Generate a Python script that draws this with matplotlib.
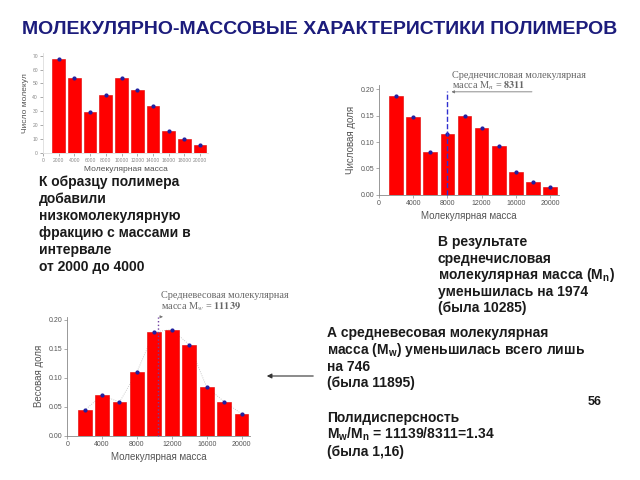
import matplotlib
matplotlib.use("Agg")
import matplotlib.pyplot as plt

plt.rcParams['font.family'] = ['Liberation Sans', 'DejaVu Sans']
plt.rcParams['mathtext.fontset'] = 'custom'
plt.rcParams['mathtext.rm'] = 'Liberation Sans:bold'
plt.rcParams['mathtext.it'] = 'Liberation Sans:bold'
plt.rcParams['mathtext.bf'] = 'Liberation Sans:bold'

# data
masses = [2000, 4000, 6000, 8000, 10000, 12000, 14000, 16000, 18000, 20000]
n_molecules = [67.3, 53.6, 29.6, 41.6, 53.6, 45.4, 33.9, 16.1, 9.9, 5.8]
number_frac = [0.188, 0.148, 0.082, 0.115, 0.149, 0.127, 0.093, 0.043, 0.025, 0.014]
weight_frac = [0.044, 0.070, 0.058, 0.110, 0.179, 0.183, 0.157, 0.084, 0.059, 0.038]
mn_line = 7900     # where the dashed line is drawn on the slide
mw_line = 10400

bar_red = '#ff0000'
grey = '#555555'

fig = plt.figure(figsize=(6.4, 4.8), dpi=100)

def style_axes(ax, ticksize):
    for s in ['top', 'right']:
        ax.spines[s].set_visible(False)
    for s in ['left', 'bottom']:
        ax.spines[s].set_color('#888888')
        ax.spines[s].set_linewidth(0.6)
    ax.tick_params(labelsize=ticksize, colors='#888888', labelcolor=grey,
                   length=2, width=0.5, pad=1.5)

def bars(ax, vals):
    ax.bar(masses, vals, width=1600, color=bar_red, edgecolor='#dd0000', linewidth=0.4, zorder=2)
    ax.plot(masses, vals, 'o', color='#2020a0', markersize=2, zorder=3)

# ---- top-left: number of molecules
ax1 = fig.add_axes([0.067, 0.681, 0.258, 0.209])
bars(ax1, n_molecules)
ax1.set_xlim(0, 21000)
ax1.set_ylim(0, 72)
ax1.set_xticks([0] + masses)
ax1.set_xticklabels(['0'] + [str(m) for m in masses])
ax1.set_yticks(range(0, 80, 10))
style_axes(ax1, 3.6)
ax1.spines['left'].set_color('#dddddd')
ax1.spines['bottom'].set_color('#dddddd')
ax1.tick_params(labelcolor='#888888')
ax1.set_ylabel('Число молекул', fontsize=6, color=grey, labelpad=2)
ax1.set_xlabel('Молекулярная масса', fontsize=6, color=grey, labelpad=2)

# ---- top-right: number fraction
ax2 = fig.add_axes([0.592, 0.594, 0.281, 0.229])
bars(ax2, number_frac)
ax2.set_xlim(0, 21000)
ax2.set_ylim(0, 0.208)
ax2.set_xticks([0, 4000, 8000, 12000, 16000, 20000])
ax2.set_yticks([0, 0.05, 0.10, 0.15, 0.20])
ax2.set_yticklabels(['0.00', '0.05', '0.10', '0.15', '0.20'])
style_axes(ax2, 5)
ax2.set_ylabel('Числовая доля', fontsize=7, color=grey, labelpad=3)
ax2.set_xlabel('Молекулярная масса', fontsize=7, color=grey, labelpad=3)
ax2.plot([mn_line, mn_line], [0, 0.196], '--', color='#3030d0', linewidth=1.0,
         zorder=4, clip_on=False)
ax2.annotate('', xy=(mn_line + 250, 0.195), xytext=(18200, 0.195),
             arrowprops=dict(arrowstyle='-|>', color='#777777', lw=0.6,
                             mutation_scale=4), annotation_clip=False)
ax2.text(mn_line + 600, 0.1945, 'Среднечисловая молекулярная\nмасса M$_n$ = $\\mathbf{8311}$',
         fontsize=7.4, family='Liberation Serif', color='#666666', va='bottom',
         linespacing=1.0, math_fontfamily='stix')

# ---- bottom: weight fraction
ax3 = fig.add_axes([0.105, 0.092, 0.286, 0.248])
ax3.plot(masses, weight_frac, ':', color='#bbbbbb', linewidth=0.6, zorder=1)
bars(ax3, weight_frac)
ax3.set_xlim(0, 21000)
ax3.set_ylim(0, 0.205)
ax3.set_xticks([0, 4000, 8000, 12000, 16000, 20000])
ax3.set_yticks([0, 0.05, 0.10, 0.15, 0.20])
ax3.set_yticklabels(['0.00', '0.05', '0.10', '0.15', '0.20'])
style_axes(ax3, 5)
ax3.set_ylabel('Весовая доля', fontsize=7, color=grey, labelpad=3)
ax3.set_xlabel('Молекулярная масса', fontsize=7, color=grey, labelpad=3)
ax3.plot([mw_line, mw_line], [0, 0.205], ':', color='#7040a0', linewidth=1.0,
         zorder=4, clip_on=False)
ax3.annotate('', xy=(mw_line + 900, 0.205), xytext=(mw_line, 0.205),
             arrowprops=dict(arrowstyle='-|>', color='#777777', lw=0.5,
                             mutation_scale=4), annotation_clip=False)
ax3.text(mw_line + 400, 0.212, 'Средневесовая молекулярная\nмасса M$_w$ = $\\mathbf{11139}$',
         fontsize=7.4, family='Liberation Serif', color='#666666', va='bottom',
         linespacing=1.0, math_fontfamily='stix')

# ---- slide text
fig.text(0.5, 1 - 30 / 480, 'МОЛЕКУЛЯРНО-МАССОВЫЕ ХАРАКТЕРИСТИКИ ПОЛИМЕРОВ',
         ha='center', va='center', fontsize=14, fontweight='bold', color='#1c1c7c')

def block(x, y_base, lines, step=16.8):
    # one text per line so that subscripts do not change the spacing
    for i, line in enumerate(lines):
        fig.text(x / 640, 1 - (y_base + i * step) / 480, line, fontsize=10,
                 fontweight='bold', color='#1a1a1a', va='baseline')

block(39, 186, ['К образцу полимера', 'добавили', 'низкомолекулярную',
                'фракцию с массами в', 'интервале', 'от 2000 до 4000'], step=17)
block(438, 246, ['В результате', 'среднечисловая', 'молекулярная масса (M$_n$)',
                 'уменьшилась на 1974', '(была 10285)'], step=16.6)
block(327, 337, ['А средневесовая молекулярная',
                 'масса (M$_w$) уменьшилась всего лишь', 'на 746', '(была 11895)'])
block(327, 422, ['Полидисперсность', 'M$_w$/M$_n$ = 11139/8311=1.34', '(была 1,16)'])
fig.text(595 / 640, 1 - 402 / 480, '56', fontsize=9, fontweight='bold',
         color='#1a1a1a', ha='center', va='center')

fig.patches.append(matplotlib.patches.FancyArrowPatch(
    (316 / 640, 1 - 376 / 480), (264 / 640, 1 - 376 / 480),
    transform=fig.transFigure, arrowstyle='-|>', mutation_scale=7,
    color='#333333', lw=0.8))

fig.savefig('out.png', dpi=100)
